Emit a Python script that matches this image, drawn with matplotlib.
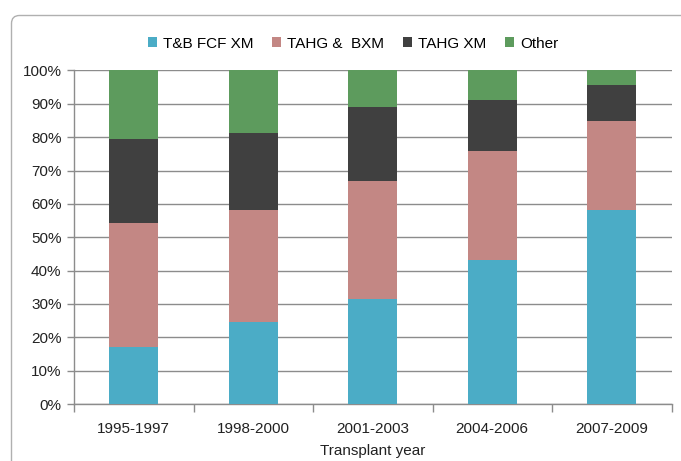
import numpy as np
import matplotlib.pyplot as plt
from matplotlib.path import Path
from matplotlib.patches import PathPatch

periods = ["1995-1997", "1998-2000", "2001-2003", "2004-2006", "2007-2009"]
series_names = ["T&B FCF XM", "TAHG &  BXM", "TAHG XM", "Other"]
tb_fcf_xm = [17.0, 24.6, 31.4, 43.2, 58.3]
tahg_bxm = [37.3, 33.6, 35.5, 32.7, 26.6]
tahg_xm = [25.2, 23.2, 22.2, 15.3, 10.8]
other = [20.5, 18.6, 10.9, 8.8, 4.3]

colors = ["#4BACC6", "#C38784", "#404040", "#5D9B5D"]

plt.rcParams["font.family"] = ["Liberation Sans", "DejaVu Sans"]

W, H = 681, 461
fig = plt.figure(figsize=(W / 100, H / 100), dpi=100)

# chart frame: rounded top-left corner, open to the right and bottom
r = 8
left, top = 11.5, H - 15.5
verts = [(left, -5), (left, top - r), (left, top), (left + r, top), (W + 5, top)]
codes = [Path.MOVETO, Path.LINETO, Path.CURVE3, Path.CURVE3, Path.LINETO]
frame = PathPatch(Path([(vx / W, vy / H) for vx, vy in verts], codes),
                  transform=fig.transFigure, fill=False, edgecolor="#b0b0b0", linewidth=1.0)
fig.patches.append(frame)

ax = fig.add_axes([74 / W, 57 / H, (671.5 - 74) / W, (404 - 70.5) / H])

x = np.arange(len(periods))
bottom = np.zeros(len(periods))
for name, vals, col in zip(series_names, [tb_fcf_xm, tahg_bxm, tahg_xm, other], colors):
    ax.bar(x, vals, width=0.41, bottom=bottom, color=col, label=name, zorder=3)
    bottom += np.array(vals)

ax.set_xlim(-0.5, len(periods) - 0.5)
ax.set_ylim(0, 100)
ax.set_yticks(np.arange(0, 101, 10))
ax.set_yticklabels([f"{v}%" for v in range(0, 101, 10)], fontsize=11, color="#222222")
ax.set_xticks(x)
ax.set_xticklabels(periods, fontsize=11, color="#222222")
ax.tick_params(axis="x", length=0, pad=13)
ax.tick_params(axis="y", length=5, color="#8c8c8c", width=1, pad=4)

# category boundary ticks below the axis
ax.set_xticks(np.arange(-0.5, len(periods)), minor=True)
ax.tick_params(axis="x", which="minor", length=6, color="#8c8c8c", width=1, direction="out")

ax.grid(axis="y", color="#8c8c8c", linewidth=1.0, zorder=0)
for side in ["top", "right"]:
    ax.spines[side].set_visible(False)
for side in ["left", "bottom"]:
    ax.spines[side].set_color("#8c8c8c")
    ax.spines[side].set_linewidth(1.0)

ax.set_xlabel("Transplant year", fontsize=11, color="#222222", labelpad=6)

ax.legend(loc="center", bbox_to_anchor=((353 - 74) / 597.5, 1.0 + (71 - 44) / 333.5), ncol=4,
          frameon=False, fontsize=11, handlelength=0.6, handleheight=0.6, handletextpad=0.4,
          columnspacing=1.2)

fig.savefig("out.png", dpi=100)
